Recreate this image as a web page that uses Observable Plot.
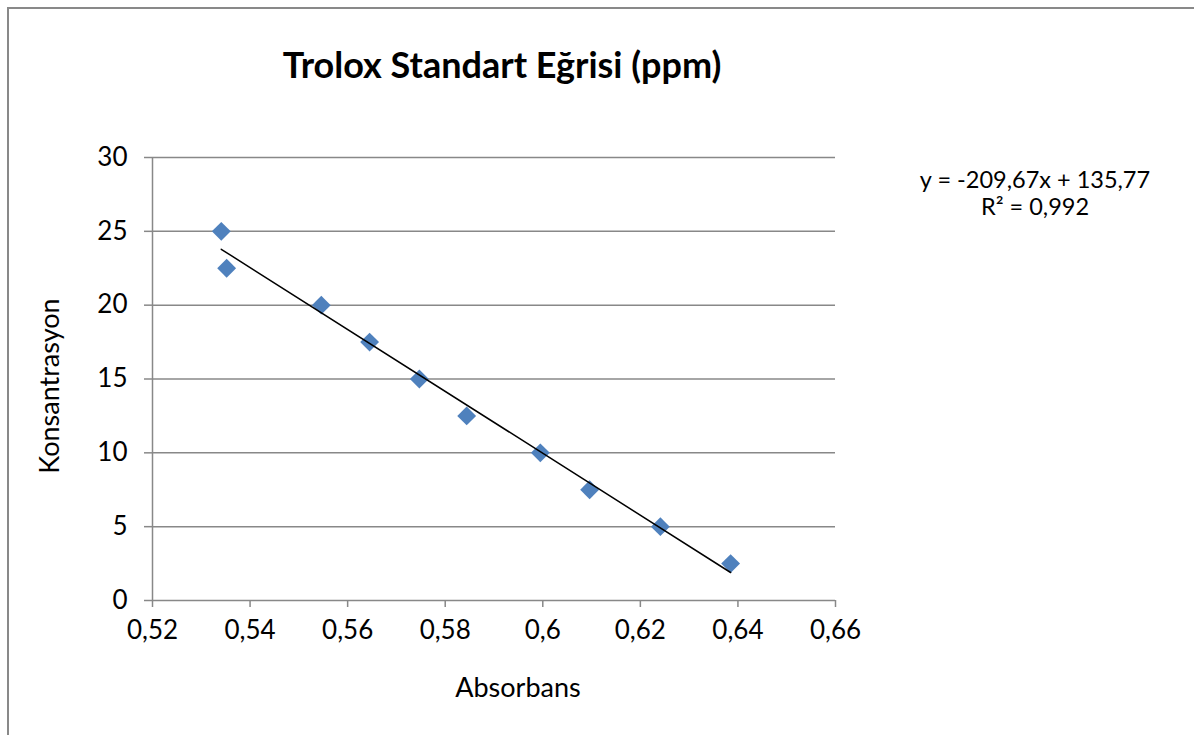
<!DOCTYPE html>
<html><head><meta charset="utf-8">
<script src="https://cdn.jsdelivr.net/npm/d3@7"></script>
<script src="https://cdn.jsdelivr.net/npm/@observablehq/plot@0.6"></script>
<style>
body{margin:0;background:#fff;font-family:Lato,sans-serif;color:#000}
#wrap{position:relative;width:1194px;height:735px;overflow:hidden;background:#fff}
#frame{position:absolute;left:7px;top:7px;width:1300px;height:800px;border-left:2px solid #898989;border-top:2px solid #898989;pointer-events:none}
#title{position:relative;height:110px;width:1194px}
#title span{position:absolute;left:0;width:1004px;top:46px;text-align:center;font-weight:700;font-size:36px;line-height:1}
#eq{position:absolute;left:885px;width:300px;top:166px;text-align:center;font-size:23.5px;line-height:27px}
#chart svg{display:block}
</style></head>
<body>
<div id="wrap">
  <div id="frame"></div>
  <div id="title"><span></span></div>
  <div id="chart"></div>
  <div id="eq"></div>
</div>
<script>
const titleText = "Trolox Standart Eğrisi (ppm)";
const xLabel = "Absorbans";
const yLabel = "Konsantrasyon";
const absorbans = [0.5341, 0.5352, 0.5546, 0.5645, 0.5747, 0.5844, 0.5995, 0.6096, 0.6241, 0.6385];
const konsantrasyon = [25, 22.5, 20, 17.5, 15, 12.5, 10, 7.5, 5, 2.5];
const xTicks = [0.52, 0.54, 0.56, 0.58, 0.60, 0.62, 0.64, 0.66];
const yTicks = [0, 5, 10, 15, 20, 25, 30];
const slope = -209.67;
const intercept = 135.77;
const equationLines = ["y = -209,67x + 135,77", "R² = 0,992"];

document.querySelector("#title span").textContent = titleText;
document.querySelector("#eq").innerHTML = equationLines.map(s => `<div>${s}</div>`).join("");

const points = absorbans.map((a, i) => ({a, c: konsantrasyon[i]}));
const xMin = d3.min(absorbans), xMax = d3.max(absorbans);
const trend = [xMin, xMax].map(a => ({a, c: slope * a + intercept}));
const fmt = d => String(+(+d).toFixed(2)).replace(".", ",");

const plot = Plot.plot({
  width: 1194, height: 625,
  marginLeft: 152, marginRight: 359, marginTop: 47, marginBottom: 135,
  x: {domain: [0.52, 0.66]},
  y: {domain: [0, 30]},
  style: {fontFamily: "Lato, sans-serif", fontSize: "26px", color: "#000", background: "transparent", overflow: "visible"},
  marks: [
    Plot.ruleY(yTicks, {stroke: "#888", strokeWidth: 1.5}),
    Plot.ruleX([0.52], {stroke: "#888", strokeWidth: 1.5}),
    Plot.axisY({ticks: yTicks, tickSize: 8, tickPadding: 17, stroke: "#888", strokeWidth: 1.5, fill: "#000", tickFormat: fmt, fontSize: 26, label: null}),
    Plot.axisX({ticks: xTicks, tickSize: 7, tickPadding: 13, stroke: "#888", strokeWidth: 1.5, fill: "#000", tickFormat: fmt, fontSize: 26, label: null}),
    Plot.text([xLabel], {text: d => d, frameAnchor: "bottom", dx: 24, dy: 88, textAnchor: "middle", lineAnchor: "middle", fontSize: 27, fill: "#000"}),
    Plot.text([yLabel], {text: d => d, frameAnchor: "left", dx: -102, dy: 7, rotate: -90, textAnchor: "middle", lineAnchor: "middle", fontSize: 27, fill: "#000"}),
    Plot.dot(points, {x: "a", y: "c", symbol: "diamond2", r: 8.5, fill: "#4F81BD", stroke: "none"}),
    Plot.line(trend, {x: "a", y: "c", stroke: "#000", strokeWidth: 1.5})
  ]
});
document.getElementById("chart").appendChild(plot);
</script>
</body></html>
